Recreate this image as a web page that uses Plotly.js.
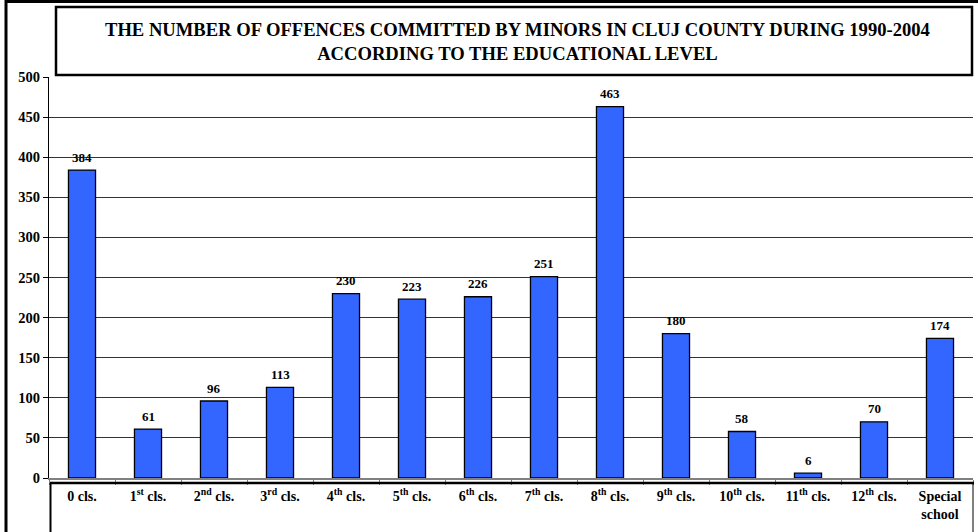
<!DOCTYPE html>
<html>
<head>
<meta charset="utf-8">
<script src="https://cdn.plot.ly/plotly-3.0.1.min.js"></script>
<style>
  html, body { margin: 0; padding: 0; background: #ffffff; }
  #chart { width: 978px; height: 532px; }
</style>
</head>
<body>
<div id="chart"></div>
<script>
// Educational level of the minors (category axis)
const levels = [
  "0 cls.",
  "1<sup>st</sup> cls.",
  "2<sup>nd</sup> cls.",
  "3<sup>rd</sup> cls.",
  "4<sup>th</sup> cls.",
  "5<sup>th</sup> cls.",
  "6<sup>th</sup> cls.",
  "7<sup>th</sup> cls.",
  "8<sup>th</sup> cls.",
  "9<sup>th</sup> cls.",
  "10<sup>th</sup> cls.",
  "11<sup>th</sup> cls.",
  "12<sup>th</sup> cls.",
  "Special<br>school"
];

// Number of offences per level, 1990-2004
const offences = [384, 61, 96, 113, 230, 223, 226, 251, 463, 180, 58, 6, 70, 174];

// Y axis ticks
const yTicks = [0, 50, 100, 150, 200, 250, 300, 350, 400, 450, 500];

const titleLines = [
  "THE NUMBER OF OFFENCES COMMITTED BY MINORS IN CLUJ COUNTY DURING 1990-2004",
  "ACCORDING TO THE EDUCATIONAL LEVEL"
];

const W = 978, H = 532;
const M = { l: 49, r: 5, t: 77, b: 54 };
const PW = W - M.l - M.r, PH = H - M.t - M.b;
// pixel -> paper coordinate helpers for frame decorations
const px = x => (x - M.l) / PW;
const py = y => (H - M.b - y) / PH;

const serif = "Times New Roman, Liberation Serif, DejaVu Serif, serif";

const bars = {
  type: "bar",
  x: levels,
  y: offences,
  marker: { color: "#3366ff", line: { color: "#000000", width: 1.3 } },
  hoverinfo: "x+y"
};

// value labels above the bars
const valueLabels = levels.map((lv, i) => ({
  x: lv, y: offences[i], xref: "x", yref: "y",
  text: "<b>" + offences[i] + "</b>",
  showarrow: false, yanchor: "middle", yshift: 13,
  font: { family: serif, size: 13, color: "#000" }
}));

const titleNote = {
  xref: "paper", yref: "paper",
  x: px(517), y: py(41), xanchor: "center", yanchor: "middle",
  text: titleLines.map(t => "<b>" + t + "</b>").join("<br>"),
  showarrow: false,
  font: { family: serif, size: 18.6, color: "#000" }
};

const frameShapes = [
  // outer frame: top and left edge
  { type: "line", xref: "paper", yref: "paper", x0: px(5), x1: px(978), y0: py(1.5), y1: py(1.5),
    line: { color: "#000", width: 3 } },
  { type: "line", xref: "paper", yref: "paper", x0: px(6), x1: px(6), y0: py(0), y1: py(532),
    line: { color: "#000", width: 3 } },
  // title box
  { type: "rect", xref: "paper", yref: "paper", x0: px(56), x1: px(972), y0: py(7), y1: py(75),
    fillcolor: "#ffffff", line: { color: "#000", width: 2.5 }, layer: "above" },
  // category table box below the axis
  { type: "line", xref: "paper", yref: "paper", x0: px(50), x1: px(974), y0: py(483), y1: py(483),
    line: { color: "#000", width: 2.5 } },
  { type: "line", xref: "paper", yref: "paper", x0: px(50.5), x1: px(50.5), y0: py(483), y1: py(532),
    line: { color: "#000", width: 2 } },
  { type: "line", xref: "paper", yref: "paper", x0: px(973), x1: px(973), y0: py(483), y1: py(532),
    line: { color: "#000", width: 1 } }
];

const layout = {
  width: W, height: H,
  margin: M,
  paper_bgcolor: "#ffffff",
  plot_bgcolor: "#ffffff",
  showlegend: false,
  bargap: 0.59,
  font: { family: serif, color: "#000" },
  xaxis: {
    type: "category",
    range: [-0.5, levels.length - 0.5],
    tickson: "boundaries",
    ticks: "outside", ticklen: 5, tickcolor: "#808080", tickwidth: 1,
    showgrid: false,
    showline: true, linecolor: "#808080", linewidth: 2,
    zeroline: false,
    tickvals: levels,
    ticktext: levels.map(t => "<b>" + t + "</b>"),
    tickfont: { family: serif, size: 14, color: "#000" },
    ticklabelstandoff: 4,
    fixedrange: true
  },
  yaxis: {
    range: [0, 500],
    tickvals: yTicks,
    ticktext: yTicks.map(v => "<b>" + v + "</b>"),
    ticks: "outside", ticklen: 5, tickcolor: "#000", tickwidth: 1,
    showgrid: true, gridcolor: "#333333", gridwidth: 1,
    showline: true, linecolor: "#000", linewidth: 1,
    zeroline: false,
    tickfont: { family: serif, size: 14.5, color: "#000" },
    fixedrange: true
  },
  shapes: frameShapes,
  annotations: [titleNote].concat(valueLabels)
};

Plotly.newPlot("chart", [bars], layout, { displayModeBar: false, staticPlot: true });
</script>
</body>
</html>
